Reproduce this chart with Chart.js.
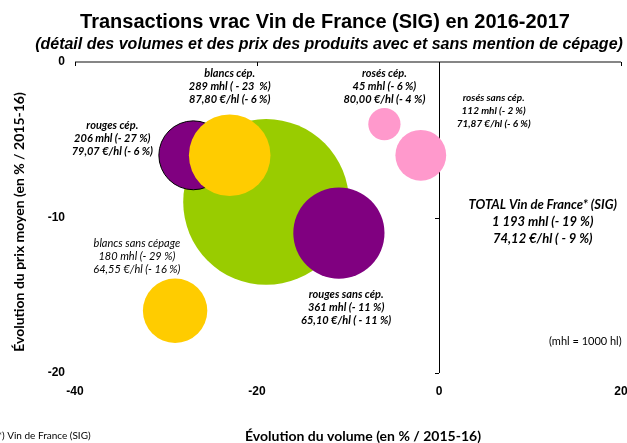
<!DOCTYPE html>
<html>
<head>
<meta charset="utf-8">
<script src="https://cdn.jsdelivr.net/npm/chart.js@4"></script>
<style>
  html, body { margin: 0; padding: 0; background: #fff; }
  #wrap { width: 627px; height: 443px; }
</style>
</head>
<body>
<div id="wrap"><canvas id="chart"></canvas></div>
<script>
// data
const names = ["TOTAL", "rouges cép.", "rouges sans cép.", "blancs cép.", "blancs sans cépage", "rosés cép.", "rosés sans cép."];
const volumes = [1193, 206, 361, 289, 180, 45, 112]; // mhl
const volChange = [-19, -27, -11, -23, -29, -6, -2]; // % / 2015-16
const priceChange = [-9, -6, -11, -6, -16, -4, -6]; // % / 2015-16
const colors = ["#99CC00", "#800080", "#800080", "#FFCC00", "#FFCC00", "#FF99CC", "#FF99CC"];
const xTicks = [-40, -20, 0, 20];
const yTicks = [0, -10, -20];

const labelLines = [
  ["TOTAL Vin de France* (SIG)", "1 193 mhl (- 19 %)", "74,12 €/hl ( - 9 %)"],
  ["rouges cép.", "206 mhl (- 27 %)", "79,07 €/hl (- 6 %)"],
  ["rouges sans cép.", "361 mhl (- 11 %)", "65,10 €/hl ( - 11 %)"],
  ["blancs cép.", "289 mhl ( - 23  %)", "87,80 €/hl (- 6 %)"],
  ["blancs sans cépage", "180 mhl (- 29 %)", "64,55 €/hl (- 16 %)"],
  ["rosés cép.", "45 mhl (- 6 %)", "80,00 €/hl (- 4 %)"],
  ["rosés sans cép.", "112 mhl (- 2 %)", "71,87 €/hl (- 6 %)"]
];
// where each label block sits (middle line), in axis units
const labelAt = [
  [11.4, -10.3], [-35.9, -4.9], [-10.2, -15.8], [-23.0, -1.55],
  [-33.2, -12.5], [-6.0, -1.55], [6.0, -3.15]
];

const points = names.map((n, i) => ({
  x: volChange[i],
  y: priceChange[i],
  r: Math.sqrt(volumes[i]) * 2.4
}));

const extras = {
  id: "extras",
  afterDraw(chart) {
    const ctx = chart.ctx;
    const xs = chart.scales.x, ys = chart.scales.y;
    const x0 = xs.getPixelForValue(0), y0 = ys.getPixelForValue(0);
    ctx.save();

    // small tick marks on the axes
    ctx.strokeStyle = "#000";
    ctx.lineWidth = 1;
    ctx.beginPath();
    xTicks.forEach(v => {
      const px = Math.round(xs.getPixelForValue(v)) + 0.5;
      ctx.moveTo(px, y0); ctx.lineTo(px, y0 + 4);
    });
    yTicks.slice(1).forEach(v => {
      const py = Math.round(ys.getPixelForValue(v)) + 0.5;
      ctx.moveTo(x0 - 4, py); ctx.lineTo(x0, py);
    });
    ctx.stroke();

    // titles
    ctx.fillStyle = "#000";
    ctx.textAlign = "center";
    ctx.textBaseline = "middle";
    ctx.font = "bold 20px 'Liberation Sans'";
    ctx.fillText("Transactions vrac Vin de France (SIG) en 2016-2017", 325, 22);
    ctx.font = "italic bold 16px 'Liberation Sans'";
    ctx.fillText("(détail des volumes et des prix des produits avec et sans mention de cépage)", 329, 45);

    ctx.font = "bold 14px Lato";
    ctx.fillText("Évolution du volume (en % / 2015-16)", 363, 436);
    ctx.save();
    ctx.translate(19, 222);
    ctx.rotate(-Math.PI / 2);
    ctx.fillText("Évolution du prix moyen (en % / 2015-16)", 0, 0);
    ctx.restore();

    // bubble labels
    labelLines.forEach((lines, i) => {
      const cx = xs.getPixelForValue(labelAt[i][0]);
      const cy = ys.getPixelForValue(labelAt[i][1]);
      let size = 11, lh = 13, weight = "bold";
      if (i === 0) { size = 13; lh = 17; }
      if (i === 6) { size = 10; lh = 13; }
      if (i === 4) { weight = "normal"; }
      ctx.font = "italic " + weight + " " + size + "px Lato";
      lines.forEach((t, k) => ctx.fillText(t, cx, cy + (k - 1) * lh));
    });

    ctx.textAlign = "left";
    ctx.font = "11px Lato";
    ctx.fillText("(mhl = 1000 hl)", 549, 341);
    ctx.font = "10px Lato";
    ctx.fillText("(*) Vin de France (SIG)", -5, 436);
    ctx.restore();
  }
};

new Chart(document.getElementById("chart"), {
  type: "bubble",
  data: {
    datasets: [{
      data: points,
      backgroundColor: colors,
      borderColor: "#000",
      borderWidth: [0, 1, 0, 0, 0, 0, 0],
      hoverBorderWidth: 0
    }]
  },
  options: {
    responsive: true,
    maintainAspectRatio: false,
    animation: false,
    events: [],
    clip: false,
    layout: { autoPadding: false, padding: { top: 62, right: 6, left: 0, bottom: 0 } },
    plugins: { legend: { display: false }, title: { display: false }, tooltip: { enabled: false } },
    scales: {
      x: {
        min: -40, max: 20,
        afterFit: s => { s.height = 70; s.paddingLeft = 0; s.paddingRight = 0; },
        border: { display: false },
        grid: {
          drawTicks: false,
          color: c => c.tick && c.tick.value === 0 ? "#000" : "rgba(0,0,0,0)",
          lineWidth: 1
        },
        ticks: {
          stepSize: 20, padding: 11, color: "#000",
          font: { family: "'Liberation Sans'", size: 12, weight: "bold" }
        }
      },
      y: {
        min: -20, max: 0,
        afterFit: s => { s.width = 75; s.paddingTop = 0; s.paddingBottom = 0; },
        border: { display: false },
        grid: {
          drawTicks: false,
          color: c => c.tick && c.tick.value === 0 ? "#868686" : "rgba(0,0,0,0)",
          lineWidth: 2
        },
        ticks: {
          stepSize: 10, padding: 10, color: "#000",
          font: { family: "'Liberation Sans'", size: 12, weight: "bold" }
        }
      }
    }
  },
  plugins: [extras]
});
</script>
</body>
</html>
